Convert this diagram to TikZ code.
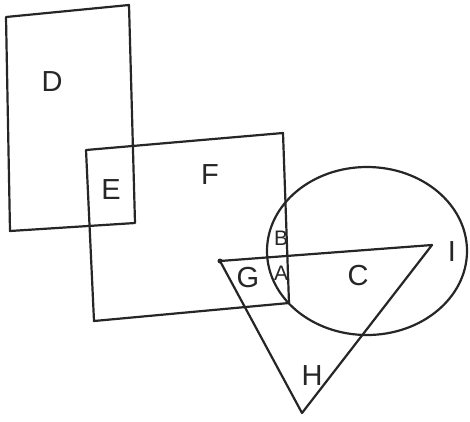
\documentclass[tikz,border=0pt]{standalone}
\usepackage{fontspec}
\setmainfont{Liberation Sans}
\usetikzlibrary{shapes.geometric}
\begin{document}
\begin{tikzpicture}[x=1pt,y=-1pt,
  edge/.style={line width=2.2pt,line join=round,line cap=round,black!85},
  lab/.style={font=\fontsize{29}{32}\selectfont,text=black!85,inner sep=0pt},
  smalllab/.style={font=\fontsize{21}{24}\selectfont,text=black!85,inner sep=0pt}]
\fill[white] (0,0) rectangle (470,421);
\useasboundingbox (0,0) rectangle (470,421);
% rectangle D
\coordinate (d1) at (6,17);
\coordinate (d2) at (129,5);
\coordinate (d3) at (135,223);
\coordinate (d4) at (10,231);
\draw[edge] (d1) -- (d2) -- (d3) -- (d4) -- cycle;
% rectangle F
\coordinate (f1) at (86,150);
\coordinate (f2) at (283,133);
\coordinate (f3) at (289,303);
\coordinate (f4) at (94,321);
\draw[edge] (f1) -- (f2) -- (f3) -- (f4) -- cycle;
% ellipse
\node[ellipse,draw,edge,minimum width=200pt,minimum height=168pt,inner sep=0pt] (circ) at (367,251) {};
% triangle
\coordinate (tg) at (220,261);
\coordinate (ti) at (432,245);
\coordinate (th) at (302,413);
\draw[edge] (tg) -- (ti) -- (th) -- cycle;
\fill[black!85] (tg) circle (2.5pt);
% labels
\node[lab] (lD) at (52,82) {D};
\node[lab] (lE) at (111,190) {E};
\node[lab] (lF) at (210,175) {F};
\node[smalllab] (lB) at (281,238) {B};
\node[smalllab] (lA) at (281,273) {A};
\node[lab] (lG) at (248,278) {G};
\node[lab] (lC) at (358,276) {C};
\node[lab] (lI) at (452,252) {I};
\node[lab] (lH) at (312,376) {H};
\end{tikzpicture}
\end{document}
